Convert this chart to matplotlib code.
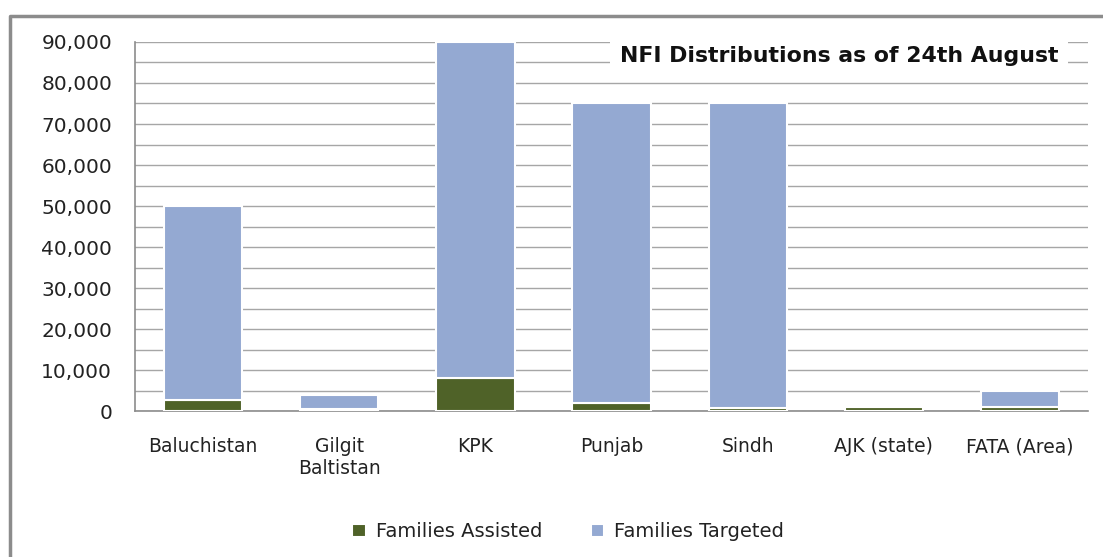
import matplotlib.pyplot as plt
from matplotlib.lines import Line2D
from matplotlib.ticker import MultipleLocator, FuncFormatter

regions = ["Baluchistan", "Gilgit\nBaltistan", "KPK", "Punjab", "Sindh", "AJK (state)", "FATA (Area)"]
families_assisted = [2700, 400, 8000, 2000, 800, 900, 900]
families_targeted = [47300, 3600, 82000, 73000, 74200, 0, 3900]

green = "#4F6228"
blue = "#94A9D2"
grid_col = "#A6A6A6"

fig = plt.figure(figsize=(11.03, 5.57), dpi=100)
ax = fig.add_axes([0.1224, 0.2621, 0.864, 0.6625])

x = range(len(regions))
ax.bar(x, families_assisted, width=0.575, color=green, edgecolor="white", linewidth=1.5,
       label="Families Assisted", zorder=3)
ax.bar(x, families_targeted, width=0.575, bottom=families_assisted, color=blue,
       edgecolor="white", linewidth=1.5, label="Families Targeted", zorder=3)

ax.set_xlim(-0.5, len(regions) - 0.5)
ax.set_ylim(0, 90000)
ax.yaxis.set_major_locator(MultipleLocator(10000))
ax.yaxis.set_minor_locator(MultipleLocator(5000))
ax.yaxis.set_major_formatter(FuncFormatter(lambda v, p: f"{int(v):,}"))
ax.grid(True, axis="y", which="both", color=grid_col, linewidth=1, zorder=0)
ax.set_axisbelow(True)

ax.set_xticks(list(x))
ax.set_xticklabels(regions, fontsize=13.5, color="#222222")
ax.tick_params(axis="x", length=0, pad=19)
ax.tick_params(axis="y", which="both", length=0, pad=16.5, labelsize=14.5, labelcolor="#222222")

for s in ["top", "right"]:
    ax.spines[s].set_visible(False)
for s in ["left", "bottom"]:
    ax.spines[s].set_color("#8C8C8C")
    ax.spines[s].set_linewidth(1.2)

ax.text(0.739, 0.962, "NFI Distributions as of 24th August", transform=ax.transAxes,
        ha="center", va="center", fontsize=15.8, fontweight="bold", color="#111111",
        bbox=dict(facecolor="white", edgecolor="none", pad=7), zorder=5)

fig.legend(loc="center", bbox_to_anchor=(0.515, 0.045), ncol=2, frameon=False,
           fontsize=14, handlelength=0.7, handleheight=0.7, columnspacing=2.5,
           handletextpad=0.5, labelcolor="#222222")

# outer chart border (only top and left visible in the crop)
fig.add_artist(Line2D([10 / 1103, 10 / 1103, 1.0], [0.0, 1 - 16 / 557, 1 - 16 / 557],
                      transform=fig.transFigure, color="#8C8C8C", linewidth=2.5))

fig.savefig("out.png", dpi=100)
